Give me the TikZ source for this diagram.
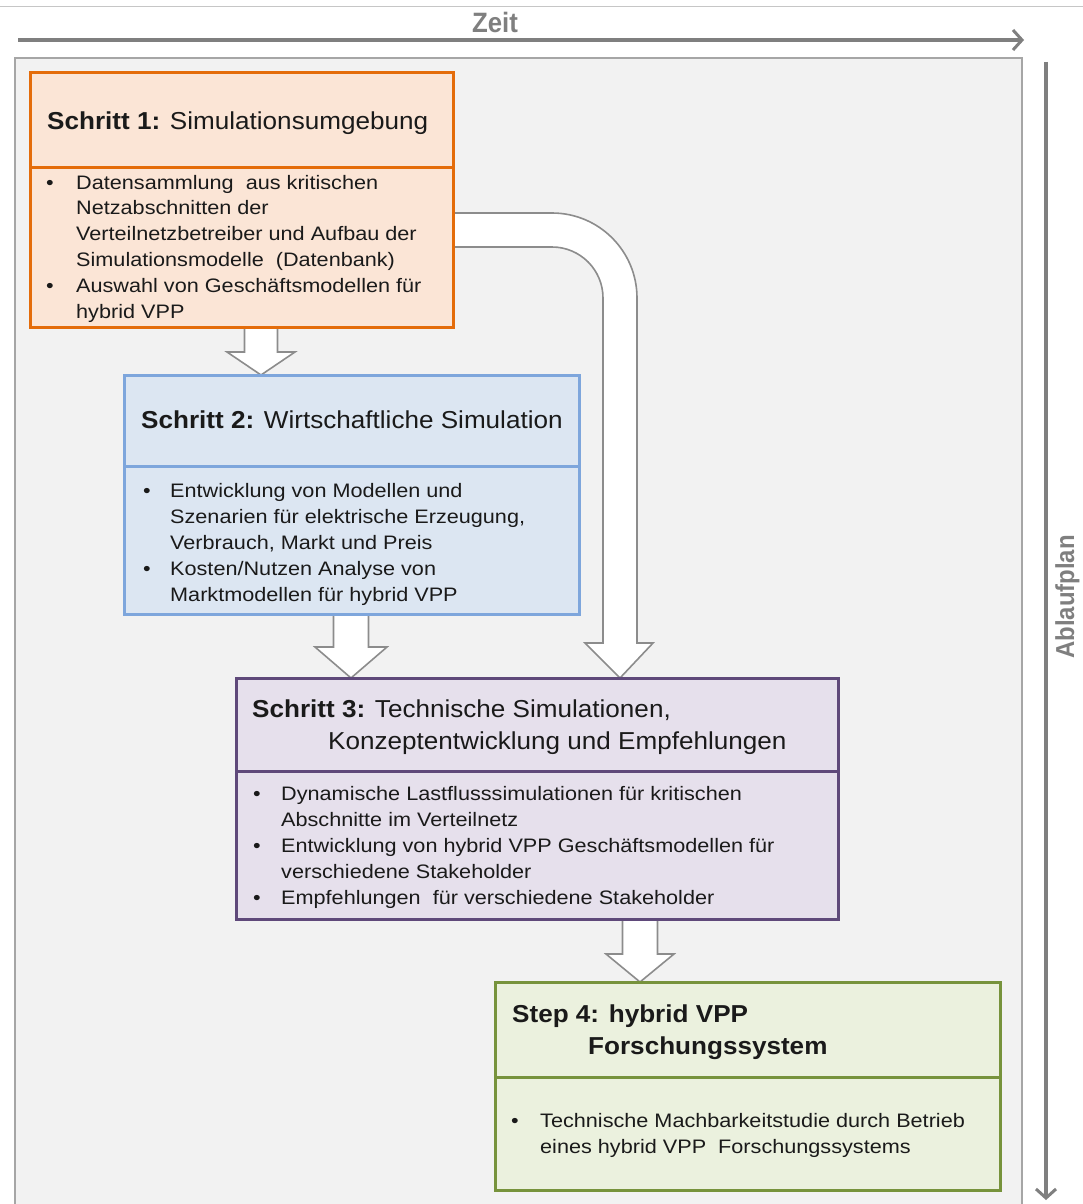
\documentclass[tikz,border=0pt]{standalone}
\usepackage{fontspec}
\setmainfont{Liberation Sans}
\newfontfamily\bodyfont[FakeStretch=1.11]{Liberation Sans}
\newfontfamily\headfont[FakeStretch=1.065]{Liberation Sans}
\newfontfamily\axisfont[FakeStretch=0.92]{Liberation Sans}
\usetikzlibrary{calc,arrows.meta}
\definecolor{txt}{HTML}{1A1A1A}
\definecolor{axisgray}{HTML}{7F7F7F}
\definecolor{framefill}{HTML}{F2F2F2}
\definecolor{framedraw}{HTML}{A6A6A6}
\definecolor{arrdraw}{HTML}{8C8C8C}
\definecolor{orB}{HTML}{E46C0A}
\definecolor{orF}{HTML}{FBE5D6}
\definecolor{blB}{HTML}{7EA6DC}
\definecolor{blF}{HTML}{DCE6F2}
\definecolor{puB}{HTML}{5F497A}
\definecolor{puF}{HTML}{E6E0EC}
\definecolor{grB}{HTML}{77933C}
\definecolor{grF}{HTML}{EBF1DE}
\pgfdeclarelayer{bg}
\pgfdeclarelayer{arr}
\pgfsetlayers{bg,arr,main}
\newcommand\blockarrow[5]{%
  \filldraw[barrow] let \p1=(#1), \p2=(#2) in
   ({\x2-#3pt},\y1) -- ({\x2-#3pt},{\y2+#5pt}) -- ({\x2-#4pt},{\y2+#5pt}) -- (\x2,\y2)
   -- ({\x2+#4pt},{\y2+#5pt}) -- ({\x2+#3pt},{\y2+#5pt}) -- ({\x2+#3pt},\y1);}
\begin{document}
\begin{tikzpicture}[x=1pt,y=-1pt,
  stepbox/.style 2 args={draw=#1, fill=#2, line width=3pt, inner sep=0pt, outer sep=0pt},
  divider/.style={draw=#1, line width=3pt},
  barrow/.style={draw=arrdraw, fill=white, line width=1.6pt, line join=miter},
  headline/.style={anchor=base west, inner sep=0pt, text=txt, font=\headfont\fontsize{24.5}{28}\selectfont},
  bodyline/.style={anchor=base west, inner sep=0pt, text=txt, font=\bodyfont\fontsize{19.5}{26}\selectfont},
  axislabel/.style={inner sep=0pt, text=axisgray, font=\axisfont\fontsize{28}{32}\selectfont\bfseries},
  axisarrow/.style={draw=axisgray, line width=4pt, -{Straight Barb[length=9pt,width=20pt,line width=3pt]}}
]
\useasboundingbox (0,0) rectangle (1083,1204);
\begin{pgfonlayer}{bg}
  \fill[white] (0,0) rectangle (1083,1204);
  \draw[draw=gray!45, line width=1pt] (0,7) -- (1083,7);
  \draw[fill=framefill, draw=framedraw, line width=2pt] (15,58) rectangle (1022,1210);
\end{pgfonlayer}

% axes
\node[axislabel] (zeit) at (495,22) {Zeit};
\coordinate (zs) at (18,40);
\coordinate (ze) at (1024,40);
\draw[axisarrow] (zs) -- (ze);
\coordinate (as) at (1046,62);
\coordinate (ae) at (1046,1200);
\draw[axisarrow] (as) -- (ae);
\node[axislabel, font=\axisfont\fontsize{26}{30}\selectfont\bfseries, rotate=90, anchor=base] (ablauf) at (1074,597) {Ablaufplan};

% boxes
\node[stepbox={orB}{orF}, minimum width=423pt, minimum height=254pt] (s1) at (241.5,200) {};
\draw[divider=orB] (s1.west |- 0,167) -- (s1.east |- 0,167);
\node[stepbox={blB}{blF}, minimum width=455pt, minimum height=239pt] (s2) at (351.5,494.5) {};
\draw[divider=blB] (s2.west |- 0,466) -- (s2.east |- 0,466);
\node[stepbox={puB}{puF}, minimum width=602pt, minimum height=241pt] (s3) at (537,798.5) {};
\draw[divider=puB] (s3.west |- 0,771) -- (s3.east |- 0,771);
\node[stepbox={grB}{grF}, minimum width=505pt, minimum height=208pt] (s4) at (747.5,1086) {};
\draw[divider=grB] (s4.west |- 0,1077) -- (s4.east |- 0,1077);

% block arrows
\begin{pgfonlayer}{arr}
  \blockarrow{s1.south -| 261,0}{s2.north -| 261,0}{16.5}{34}{23}
  \blockarrow{s2.south -| 351,0}{s3.north -| 351,0}{17.5}{36}{31}
  \blockarrow{s3.south -| 640,0}{s4.north -| 640,0}{17.5}{34}{28}
  \filldraw[barrow] (s1.east |- 0,213) -- (552,213) arc[start angle=90,end angle=0,radius=85pt]
    -- (637,643) -- (653,643) -- (s3.north -| 620,0) -- (585,643) -- (603,643)
    -- (603,298) arc[start angle=0,end angle=90,radius=51pt] -- (s1.east |- 0,247);
\end{pgfonlayer}

% box 1 text
\node[headline] (h1) at (47,129) {\textbf{Schritt 1:} Simulationsumgebung};
\foreach \t [count=\i] in {Datensammlung\ \ aus kritischen,Netzabschnitten der,Verteilnetzbetreiber und\ Aufbau der,Simulationsmodelle\ \ (Datenbank),Auswahl\ von Geschäftsmodellen für,hybrid VPP}
  \node[bodyline] (b1-\i) at (76,{189+25.8*(\i-1)}) {\t};
\node[bodyline] (p1-1) at (46,189) {•};
\node[bodyline] (p1-2) at (46,292) {•};

% box 2 text
\node[headline] (h2) at (141,428) {\textbf{Schritt 2:} Wirtschaftliche Simulation};
\foreach \t [count=\i] in {Entwicklung von Modellen\ und,{Szenarien für elektrische Erzeugung,},{Verbrauch, Markt und Preis},Kosten/Nutzen Analyse von,Marktmodellen für hybrid VPP}
  \node[bodyline] (b2-\i) at (170,{497+26*(\i-1)}) {\t};
\node[bodyline] (p2-1) at (143,497) {•};
\node[bodyline] (p2-2) at (143,575) {•};

% box 3 text
\node[headline] (h3a) at (252,717) {\textbf{Schritt 3:} Technische Simulationen,};
\node[headline] (h3b) at (328,749) {Konzeptentwicklung und\ Empfehlungen};
\foreach \t [count=\i] in {Dynamische Lastflusssimulationen für kritischen,Abschnitte im Verteilnetz,Entwicklung\ von hybrid VPP Geschäftsmodellen für,verschiedene Stakeholder,Empfehlungen\ \ für verschiedene Stakeholder}
  \node[bodyline] (b3-\i) at (281,{800+26*(\i-1)}) {\t};
\node[bodyline] (p3-1) at (253,800) {•};
\node[bodyline] (p3-2) at (253,852) {•};
\node[bodyline] (p3-3) at (253,904) {•};

% box 4 text
\node[headline, font=\headfont\fontsize{24.5}{28}\selectfont\bfseries] (h4a) at (512,1022) {Step 4: hybrid\ VPP};
\node[headline, font=\headfont\fontsize{24.5}{28}\selectfont\bfseries] (h4b) at (588,1054) {Forschungssystem};
\foreach \t [count=\i] in {Technische Machbarkeitstudie durch Betrieb,eines hybrid VPP\ \ Forschungssystems}
  \node[bodyline] (b4-\i) at (540,{1127+26*(\i-1)}) {\t};
\node[bodyline] (p4-1) at (511,1127) {•};
\end{tikzpicture}
\end{document}
